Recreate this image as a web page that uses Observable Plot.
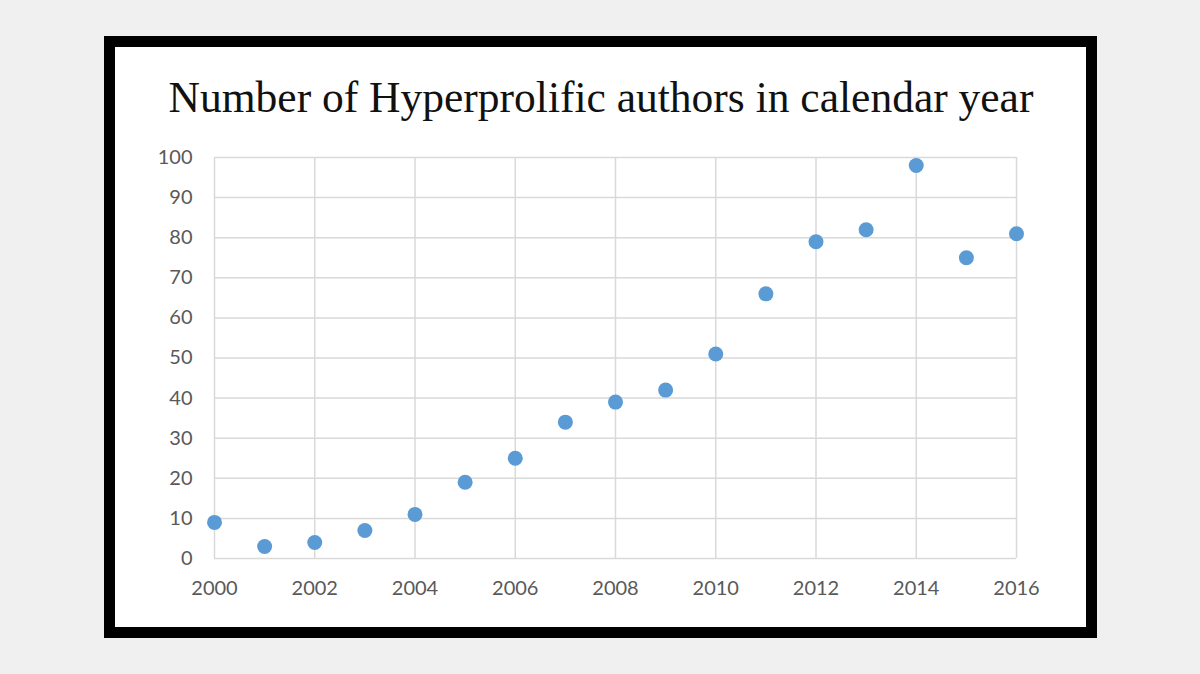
<!DOCTYPE html>
<html>
<head>
<meta charset="utf-8">
<script src="https://cdn.jsdelivr.net/npm/d3@7"></script>
<script src="https://cdn.jsdelivr.net/npm/@observablehq/plot@0.6"></script>
<style>
  html, body { margin: 0; padding: 0; }
  body { width: 1200px; height: 674px; background: #f0f0f0; position: relative; overflow: hidden; }
  #box { position: absolute; left: 104px; top: 36px; width: 993px; height: 602px; box-sizing: border-box; border: 11px solid #000; background: #fff; }
  #title { position: absolute; left: 0; top: 76px; width: 1202px; text-align: center; font-family: "Liberation Serif", serif; font-size: 43.5px; color: #111; line-height: 1; white-space: nowrap; }
  #chart { position: absolute; left: 115px; top: 130px; }
</style>
</head>
<body>
<div id="box"></div>
<div id="title">Number of Hyperprolific authors in calendar year</div>
<div id="chart"></div>
<script>
const years = [2000, 2001, 2002, 2003, 2004, 2005, 2006, 2007, 2008, 2009, 2010, 2011, 2012, 2013, 2014, 2015, 2016];
const authors = [9, 3, 4, 7, 11, 19, 25, 34, 39, 42, 51, 66, 79, 82, 98, 75, 81];
const xTicks = [2000, 2002, 2004, 2006, 2008, 2010, 2012, 2014, 2016];
const yTicks = [0, 10, 20, 30, 40, 50, 60, 70, 80, 90, 100];

const data = years.map((y, i) => ({year: y, value: authors[i]}));

const chart = Plot.plot({
  width: 970,
  height: 490,
  marginLeft: 99,
  marginRight: 69,
  marginTop: 27,
  marginBottom: 62,
  style: { fontFamily: "Lato, 'Open Sans', sans-serif", fontSize: "20px", color: "#595959", background: "transparent" },
  x: { domain: [2000, 2016], ticks: xTicks, tickFormat: "d", label: null },
  y: { domain: [0, 100], ticks: yTicks, label: null },
  marks: [
    Plot.gridX(xTicks, { stroke: "#d9d9d9", strokeOpacity: 1, strokeWidth: 1.5 }),
    Plot.gridY(yTicks, { stroke: "#d9d9d9", strokeOpacity: 1, strokeWidth: 1.5 }),
    Plot.axisX(xTicks, { tickSize: 0, tickPadding: 22, tickFormat: "d", fill: "#595959", fontSize: 20, label: null }),
    Plot.axisY(yTicks, { tickSize: 0, tickPadding: 22, fill: "#595959", fontSize: 20, label: null }),
    Plot.dot(data, { x: "year", y: "value", r: 7.5, fill: "#5b9bd5", stroke: "none" })
  ]
});
document.getElementById("chart").appendChild(chart);
</script>
</body>
</html>
